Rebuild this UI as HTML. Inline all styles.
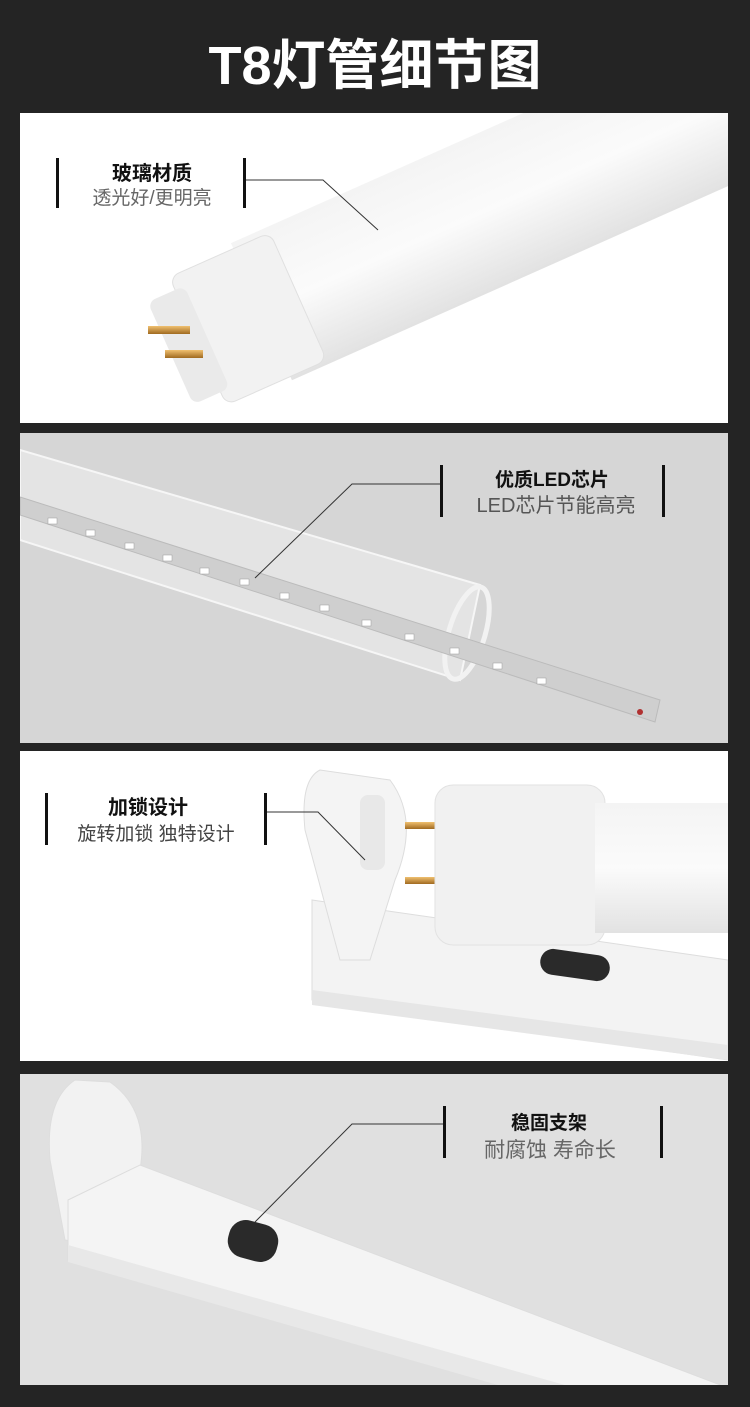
<!DOCTYPE html>
<html><head><meta charset="utf-8"><style>
body{margin:0;background:#242424;width:750px;height:1407px;overflow:hidden;font-family:"Liberation Sans","Noto Sans CJK SC",sans-serif}
svg{display:block}
</style></head><body>
<svg width="750" height="1407" viewBox="0 0 750 1407" xmlns="http://www.w3.org/2000/svg" font-family="Liberation Sans, Noto Sans CJK SC, sans-serif">
<defs>
<linearGradient id="tube1" x1="0" y1="0" x2="0" y2="1"><stop offset="0" stop-color="#f4f4f4"/><stop offset="0.5" stop-color="#fbfbfb"/><stop offset="1" stop-color="#e2e2e2"/></linearGradient>
<linearGradient id="g2" x1="0" y1="0" x2="1" y2="1"><stop offset="0" stop-color="#e6e6e6"/><stop offset="1" stop-color="#cfcfcf"/></linearGradient>
<linearGradient id="gold" x1="0" y1="0" x2="0" y2="1"><stop offset="0" stop-color="#f0c070"/><stop offset="1" stop-color="#a06a20"/></linearGradient>
</defs>
<rect width="750" height="1407" fill="#242424"/>
<text x="375" y="84" text-anchor="middle" font-size="54" font-weight="bold" fill="#fff" font-family="Liberation Sans, Noto Sans CJK SC, sans-serif">T8灯管细节图</text>

<!-- Panel 1 -->
<rect x="20" y="113" width="708" height="310" fill="#fff"/>
<clipPath id="c1"><rect x="20" y="113" width="708" height="310"/></clipPath>
<g clip-path="url(#c1)">
<g transform="rotate(-24 300 300)">
<rect x="260" y="220" width="560" height="150" fill="url(#tube1)"/>
<rect x="190" y="226" width="110" height="140" rx="10" fill="#f2f2f2" stroke="#e0e0e0"/>
<rect x="160" y="240" width="40" height="112" rx="8" fill="#eaeaea"/>
</g>
<rect x="148" y="326" width="42" height="8" fill="url(#gold)"/>
<rect x="165" y="350" width="38" height="8" fill="url(#gold)"/>
</g>
<rect x="56" y="158" width="3" height="50" fill="#111"/>
<rect x="243" y="158" width="3" height="50" fill="#111"/>
<text x="152" y="180" text-anchor="middle" font-size="20" font-weight="bold" fill="#111">玻璃材质</text>
<text x="152" y="204" text-anchor="middle" font-size="19" fill="#666">透光好/更明亮</text>
<polyline points="246,180 323,180 378,230" fill="none" stroke="#333" stroke-width="1"/>

<!-- Panel 2 -->
<rect x="20" y="433" width="708" height="310" fill="#d6d6d6"/>
<clipPath id="c2"><rect x="20" y="433" width="708" height="310"/></clipPath>
<g clip-path="url(#c2)">
<polygon points="20,450 480,585 460,680 20,540" fill="#e4e4e4" stroke="#f6f6f6" stroke-width="2"/>
<ellipse cx="467" cy="633" rx="18" ry="48" transform="rotate(17 467 633)" fill="none" stroke="#f2f2f2" stroke-width="5"/>
<polygon points="20,497 660,700 655,722 20,515" fill="#cfcfcf" stroke="#bbb"/>
<g fill="#fff" stroke="#999" stroke-width="0.5">
<rect x="48" y="518" width="9" height="6"/><rect x="86" y="530" width="9" height="6"/><rect x="125" y="543" width="9" height="6"/><rect x="163" y="555" width="9" height="6"/><rect x="200" y="568" width="9" height="6"/><rect x="240" y="579" width="9" height="6"/><rect x="280" y="593" width="9" height="6"/><rect x="320" y="605" width="9" height="6"/><rect x="362" y="620" width="9" height="6"/><rect x="405" y="634" width="9" height="6"/><rect x="450" y="648" width="9" height="6"/><rect x="493" y="663" width="9" height="6"/><rect x="537" y="678" width="9" height="6"/>
</g>
<circle cx="640" cy="712" r="3" fill="#b03030"/>
</g>
<rect x="440" y="465" width="3" height="52" fill="#111"/>
<rect x="662" y="465" width="3" height="52" fill="#111"/>
<text x="552" y="486" text-anchor="middle" font-size="19" font-weight="bold" fill="#111">优质LED芯片</text>
<text x="556" y="512" text-anchor="middle" font-size="20" fill="#555">LED芯片节能高亮</text>
<polyline points="440,484 352,484 255,578" fill="none" stroke="#333" stroke-width="1"/>

<!-- Panel 3 -->
<rect x="20" y="751" width="708" height="310" fill="#fff"/>
<clipPath id="c3"><rect x="20" y="751" width="708" height="310"/></clipPath>
<g clip-path="url(#c3)">
<polygon points="312,900 728,960 728,1060 312,1000" fill="#f3f3f3" stroke="#ddd"/>
<polygon points="312,990 728,1045 728,1060 312,1005" fill="#e6e6e6"/>
<path d="M320,770 Q300,780 305,830 L340,960 L370,960 L395,880 Q420,820 390,780 Z" fill="#f4f4f4" stroke="#ddd"/>
<rect x="360" y="795" width="25" height="75" rx="8" fill="#e8e8e8"/>
<rect x="405" y="822" width="35" height="7" fill="url(#gold)"/>
<rect x="405" y="877" width="35" height="7" fill="url(#gold)"/>
<rect x="435" y="785" width="170" height="160" rx="18" fill="#f1f1f1" stroke="#e2e2e2"/>
<rect x="595" y="803" width="140" height="130" fill="url(#tube1)"/>
<rect x="540" y="952" width="70" height="26" rx="13" fill="#2a2a2a" transform="rotate(8 575 965)"/>
</g>
<rect x="45" y="793" width="3" height="52" fill="#111"/>
<rect x="264" y="793" width="3" height="52" fill="#111"/>
<text x="148" y="814" text-anchor="middle" font-size="20" font-weight="bold" fill="#111">加锁设计</text>
<text x="156" y="840" text-anchor="middle" font-size="19" fill="#444">旋转加锁 独特设计</text>
<polyline points="267,812 318,812 365,860" fill="none" stroke="#333" stroke-width="1"/>

<!-- Panel 4 -->
<rect x="20" y="1074" width="708" height="311" fill="#e0e0e0"/>
<clipPath id="c4"><rect x="20" y="1074" width="708" height="311"/></clipPath>
<g clip-path="url(#c4)">
<path d="M75,1080 Q45,1100 50,1160 L65,1240 L100,1245 L140,1170 Q150,1110 110,1082 Z" fill="#f2f2f2" stroke="#ddd"/>
<polygon points="68,1200 140,1165 760,1400 760,1450 68,1260" fill="#f4f4f4" stroke="#ddd"/>
<polygon points="68,1245 760,1440 760,1460 68,1262" fill="#e8e8e8"/>
<rect x="228" y="1222" width="50" height="38" rx="17" fill="#2a2a2a" transform="rotate(15 253 1241)"/>
</g>
<rect x="443" y="1106" width="3" height="52" fill="#111"/>
<rect x="660" y="1106" width="3" height="52" fill="#111"/>
<text x="549" y="1129" text-anchor="middle" font-size="19" font-weight="bold" fill="#111">稳固支架</text>
<text x="550" y="1157" text-anchor="middle" font-size="21" fill="#666">耐腐蚀 寿命长</text>
<polyline points="443,1124 352,1124 255,1222" fill="none" stroke="#333" stroke-width="1"/>
</svg>
</body></html>
